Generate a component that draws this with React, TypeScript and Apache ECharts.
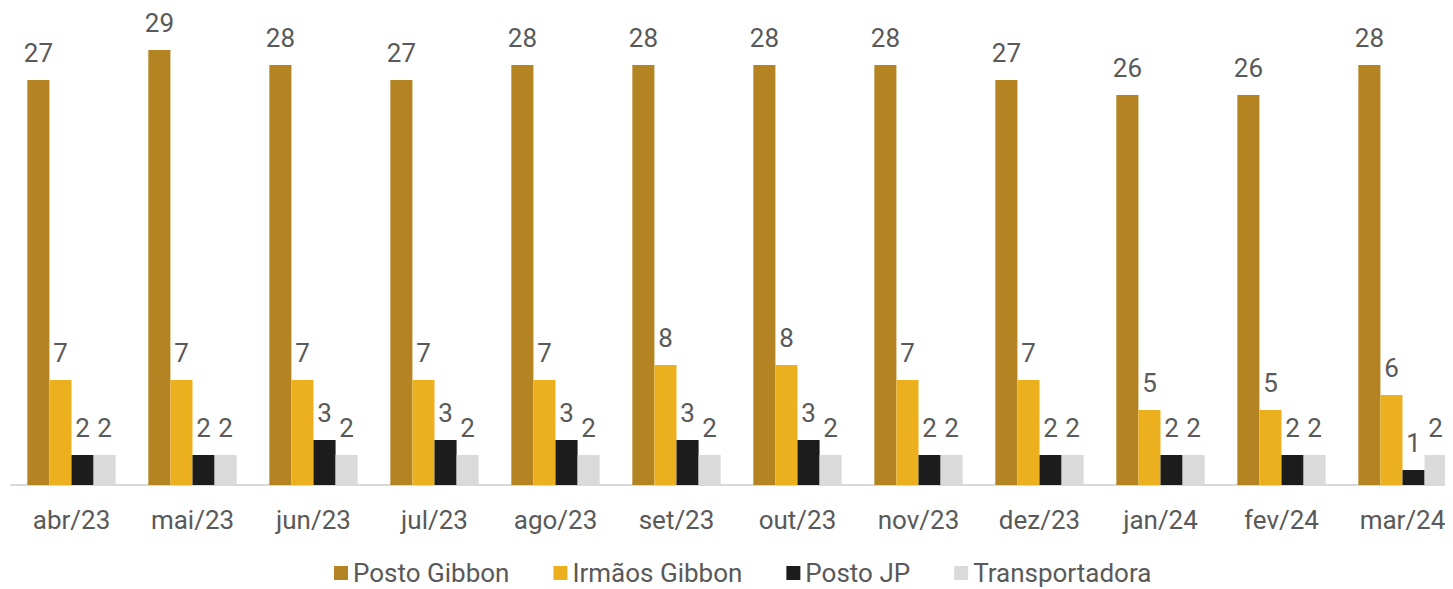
import React, { useEffect, useRef } from "react";
import * as echarts from "echarts";

const categories = ["abr/23", "mai/23", "jun/23", "jul/23", "ago/23", "set/23", "out/23", "nov/23", "dez/23", "jan/24", "fev/24", "mar/24"];
const postoGibbon = [27, 29, 28, 27, 28, 28, 28, 28, 27, 26, 26, 28];
const irmaosGibbon = [7, 7, 7, 7, 7, 8, 8, 7, 7, 5, 5, 6];
const postoJP = [2, 2, 3, 3, 3, 3, 3, 2, 2, 2, 2, 1];
const transportadora = [2, 2, 2, 2, 2, 2, 2, 2, 2, 2, 2, 2];

const seriesDefs = [
  { name: "Posto Gibbon", data: postoGibbon, color: "#B38421" },
  { name: "Irmãos Gibbon", data: irmaosGibbon, color: "#ECB01E" },
  { name: "Posto JP", data: postoJP, color: "#1C1C1C" },
  { name: "Transportadora", data: transportadora, color: "#DADADA" },
];

export default function App() {
  const ref = useRef<HTMLDivElement>(null);
  useEffect(() => {
    const chart = echarts.init(ref.current!, null, { renderer: "svg" });
    chart.setOption({
      animation: false,
      textStyle: { fontFamily: "Roboto" },
      grid: { left: 11, width: 1452, top: 35, bottom: 104, outerBoundsMode: "none", containLabel: false },
      legend: {
        bottom: -2,
        left: 329,
        itemWidth: 14,
        itemHeight: 14,
        itemGap: 44,
        icon: "rect",
        textStyle: { fontSize: 26, color: "#595959", fontFamily: "Roboto" },
        data: seriesDefs.map((s) => s.name),
      },
      xAxis: {
        type: "category",
        data: categories,
        axisLine: { lineStyle: { color: "#D9D9D9", width: 2 } },
        axisTick: { show: false },
        axisLabel: { fontSize: 26, color: "#595959", margin: 22, fontFamily: "Roboto" },
      },
      yAxis: {
        type: "value",
        min: 0,
        max: 30,
        show: false,
        splitLine: { show: false },
      },
      series: seriesDefs.map((s) => ({
        name: s.name,
        type: "bar",
        data: s.data,
        barGap: "0%",
        barCategoryGap: "27%",
        itemStyle: { color: s.color },
        label: {
          show: true,
          position: "top",
          distance: 14,
          fontSize: 26,
          color: "#595959",
          fontFamily: "Roboto",
        },
      })),
    });
    return () => chart.dispose();
  }, []);
  return <div ref={ref} style={{ width: 1453, height: 589, margin: "-8px 0 0 -8px" }} />;
}
